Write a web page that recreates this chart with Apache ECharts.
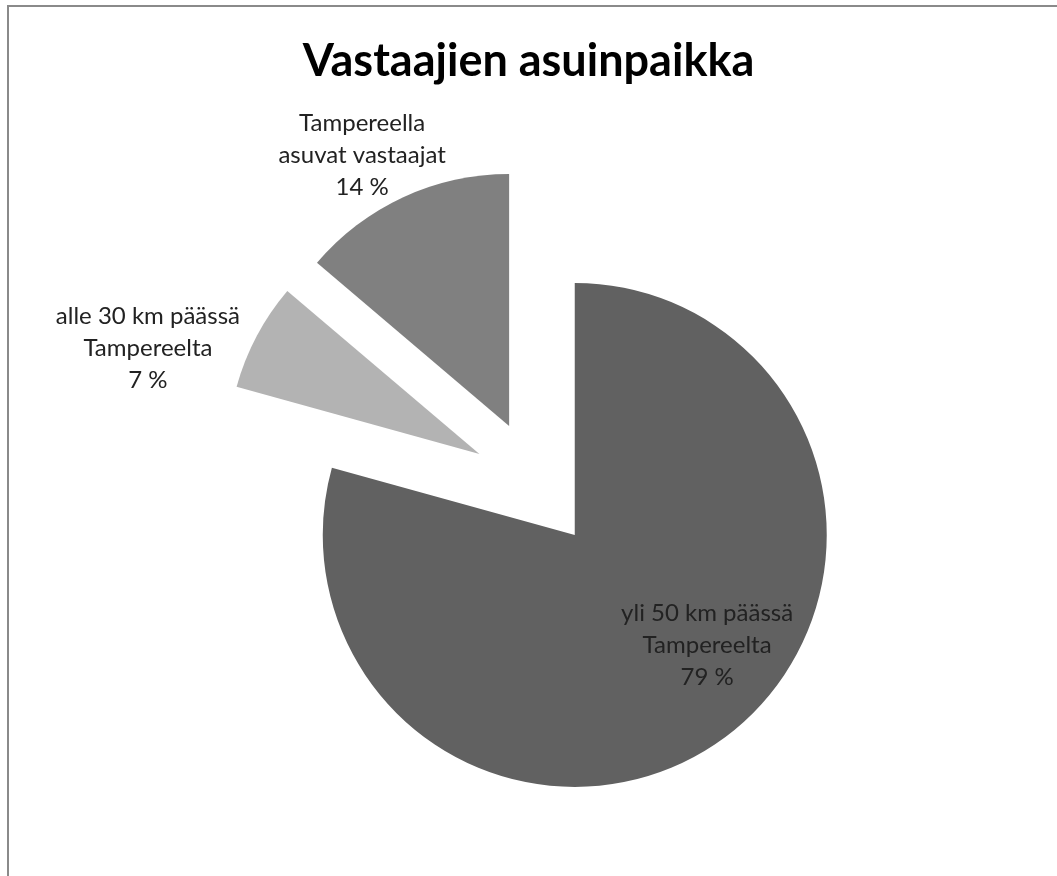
<!DOCTYPE html>
<html>
<head>
<meta charset="utf-8">
<script src="https://cdn.jsdelivr.net/npm/echarts@6/dist/echarts.min.js"></script>
<style>
html,body{margin:0;padding:0;background:#fff;}
#chart{width:1057px;height:876px;}
</style>
</head>
<body>
<div id="chart"></div>
<script>
// Data
const titleText = 'Vastaajien asuinpaikka';
const categories = ['yli 50 km päässä\nTampereelta', 'alle 30 km päässä\nTampereelta', 'Tampereella\nasuvat vastaajat'];
const values = [79.3, 6.9, 13.8];
const colors = ['#616161', '#b3b3b3', '#808080'];
// label anchors expressed as fractions of the pie radius, relative to pie centre
const labelAnchors = [[0.679, 0.639], [-1.540, -0.540], [-0.690, -1.306]];

const pieCenter = [536, 484];
const pieRadius = 252;
const explode = 64;

const total = values.reduce((s, v) => s + v, 0);
// each slice is drawn by its own series whose centre is pushed out along the slice bisector
let acc = 0;
const sliceCenters = values.map(v => {
  const midFrac = (acc + v / 2) / total;
  acc += v;
  const ang = midFrac * 2 * Math.PI; // clockwise from top
  return [pieCenter[0] + Math.sin(ang) * explode, pieCenter[1] - Math.cos(ang) * explode];
});

const chart = echarts.init(document.getElementById('chart'), null, {renderer: 'canvas'});

const series = values.map((_, s) => ({
  type: 'pie',
  center: sliceCenters[s],
  radius: pieRadius,
  startAngle: 90,
  clockwise: true,
  avoidLabelOverlap: false,
  silent: true,
  emphasis: {disabled: true},
  itemStyle: {borderWidth: 0},
  label: {
    show: true,
    position: 'inside',
    fontFamily: 'Lato',
    fontSize: 24,
    lineHeight: 32,
    color: '#222',
    align: 'center',
    formatter: p => p.name + '\n' + Math.round(p.percent) + ' %'
  },
  labelLine: {show: false},
  labelLayout: p => {
    if (p.dataIndex !== s) return {};
    const a = labelAnchors[s];
    return {
      x: pieCenter[0] + a[0] * pieRadius,
      y: pieCenter[1] + a[1] * pieRadius,
      align: 'center',
      verticalAlign: 'middle'
    };
  },
  data: categories.map((c, i) => ({
    name: c,
    value: values[i],
    itemStyle: i === s ? {color: colors[i]} : {color: 'rgba(0,0,0,0)'},
    label: {show: i === s}
  }))
}));

chart.setOption({
  backgroundColor: '#ffffff',
  animation: false,
  title: {
    text: titleText,
    left: 'center',
    top: 33,
    textStyle: {fontFamily: 'Lato', fontWeight: 'bold', fontSize: 45, color: '#000', lineHeight: 47}
  },
  graphic: [{
    type: 'rect',
    shape: {x: 8, y: 6, width: 1200, height: 1000},
    style: {fill: null, stroke: '#8a8a8a', lineWidth: 2},
    silent: true
  }],
  series: series
});
</script>
</body>
</html>
